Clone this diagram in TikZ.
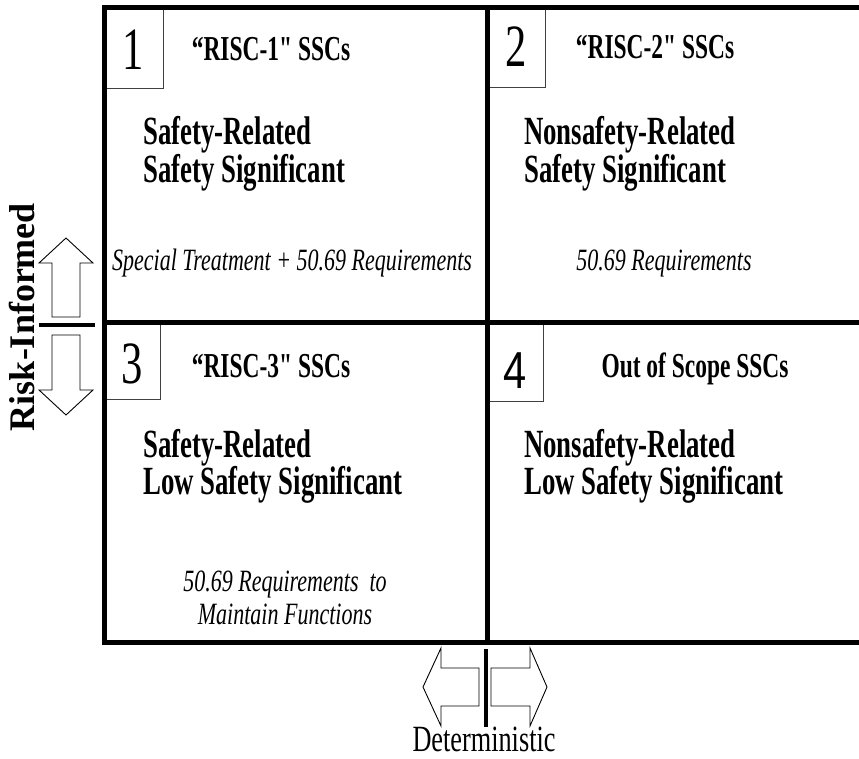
\documentclass[tikz,border=0pt]{standalone}
\usepackage{fontspec}
\setmainfont{Liberation Serif}
\newfontfamily\cond[FakeStretch=0.71]{Liberation Serif}
\newfontfamily\condb[FakeStretch=0.67]{Liberation Serif}
\newfontfamily\condsans[FakeStretch=0.8]{Liberation Sans}
\newfontfamily\wideserif{Liberation Serif}
\tikzset{
  grid/.style={line width=5pt, black, line join=miter, line cap=rect},
  numbox/.style={line width=0.9pt, black!75},
  titletext/.style={font=\condb\bfseries\fontsize{35}{38}\selectfont, anchor=base, inner sep=0pt},
  bodytext/.style={font=\condb\bfseries\fontsize{40}{42}\selectfont, anchor=base west, inner sep=0pt},
  notetext/.style={font=\cond\itshape\fontsize{31}{34}\selectfont, anchor=base, inner sep=0pt},
  numtext/.style={font=\cond\fontsize{60}{62}\selectfont, anchor=base, inner sep=0pt},
  arrowshape/.style={draw=black, line width=0.9pt, fill=white, line join=miter},
  barline/.style={line width=4pt, black},
}
\begin{document}
\begin{tikzpicture}[x=1pt, y=-1pt]
\useasboundingbox (0,0) rectangle (859,758);
% number boxes
\draw[numbox] (104,7) rectangle (163,88);
\draw[numbox] (487,7) rectangle (545,87);
\draw[numbox] (104,322) rectangle (160,399);
\draw[numbox] (487,322) rectangle (543,401);
% grid
\draw[grid] (859,7) -- (104,7) -- (104,642) -- (859,642);
\draw[grid] (487,7) -- (487,642);
\draw[grid] (104,322) -- (859,322);
% numbers
\node[numtext] (n1) at (133.5,69) {1};
\node[numtext] (n2) at (516,66) {2};
\node[numtext] (n3) at (132,383) {3};
\node[numtext, font=\condsans\fontsize{52}{54}\selectfont] (n4) at (515,388) {4};
% titles
\node[titletext] (t1) at (271,60) {“RISC-1" SSCs};
\node[titletext] (t2) at (655,58) {“RISC-2" SSCs};
\node[titletext] (t3) at (271,377) {“RISC-3" SSCs};
\node[titletext] (t4) at (695,377) {Out of Scope SSCs};
% body
\node[bodytext] (b1a) at (143,144) {Safety-Related};
\node[bodytext] (b1b) at (143,182) {Safety Significant};
\node[bodytext] (b2a) at (524,144) {Nonsafety-Related};
\node[bodytext] (b2b) at (524,182) {Safety Significant};
\node[bodytext] (b3a) at (143,457) {Safety-Related};
\node[bodytext] (b3b) at (143,494) {Low Safety Significant};
\node[bodytext] (b4a) at (524,457) {Nonsafety-Related};
\node[bodytext] (b4b) at (524,494) {Low Safety Significant};
% notes
\node[notetext] (m1) at (292,270) {Special Treatment + 50.69 Requirements};
\node[notetext] (m2) at (664,270) {50.69 Requirements};
\node[notetext] (m3a) at (285,591) {50.69 Requirements~ to};
\node[notetext] (m3b) at (285,624) {Maintain Functions};
% left arrows
\draw[arrowshape] (66,238) -- (93,263) -- (80,263) -- (80,317) -- (52,317) -- (52,263) -- (39,263) -- cycle;
\draw[barline] (39,325) -- (95,325);
\draw[arrowshape] (52,335) -- (80,335) -- (80,390) -- (93,390) -- (66,415) -- (39,390) -- (52,390) -- cycle;
\node[font=\wideserif\bfseries\fontsize{36}{38}\selectfont, rotate=90, anchor=base, inner sep=0pt] (ri) at (34,317) {Risk-Informed};
% bottom arrows
\draw[barline] (486,649) -- (486,727);
\draw[arrowshape] (423,687) -- (441,648) -- (441,668) -- (479,668) -- (479,706) -- (441,706) -- (441,726) -- cycle;
\draw[arrowshape] (547,687) -- (530,648) -- (530,668) -- (491,668) -- (491,706) -- (530,706) -- (530,726) -- cycle;
\node[font=\cond\fontsize{37}{40}\selectfont, anchor=base, inner sep=0pt] (det) at (484,751) {Deterministic};
\end{tikzpicture}
\end{document}
